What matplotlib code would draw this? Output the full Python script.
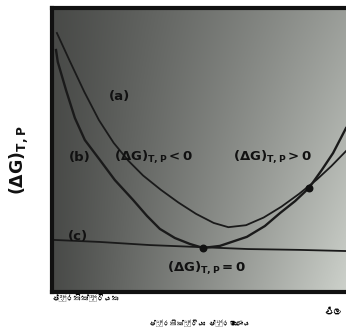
import numpy as np
import matplotlib
matplotlib.use("Agg")
import matplotlib.pyplot as plt
from matplotlib import font_manager
from matplotlib.ft2font import FT2Font

# ---- data (x = extent of reaction 0..1, y = G 0..1) ----
a_x = [0.017, 0.06, 0.11, 0.16, 0.21, 0.26, 0.31, 0.37, 0.43, 0.49,
       0.55, 0.60, 0.66, 0.72, 0.78, 0.84, 0.90, 0.95, 1.0]
a_y = [0.912, 0.815, 0.705, 0.605, 0.525, 0.462, 0.410, 0.360, 0.315, 0.275,
       0.243, 0.228, 0.235, 0.262, 0.300, 0.345, 0.395, 0.443, 0.496]

b_x = [0.014, 0.020, 0.048, 0.078, 0.112, 0.163, 0.214, 0.276, 0.323, 0.367,
       0.418, 0.469, 0.514, 0.571, 0.663, 0.724, 0.776, 0.827, 0.874, 0.918,
       0.956, 1.0]
b_y = [0.852, 0.810, 0.711, 0.613, 0.535, 0.465, 0.394, 0.324, 0.268, 0.222,
       0.190, 0.169, 0.155, 0.162, 0.194, 0.232, 0.278, 0.320, 0.366, 0.430,
       0.489, 0.577]

c_x = [0.010, 0.163, 0.333, 0.500, 0.667, 0.843, 1.0]
c_y = [0.183, 0.176, 0.165, 0.158, 0.151, 0.148, 0.144]

dot_x = [0.514, 0.874]
dot_y = [0.155, 0.366]

curve_labels = ["(a)", "(b)", "(c)"]
x_start_label = "ප්‍රතික්‍රියක"
x_end_label = "ඵල"
x_label = "ප්‍රතික්‍රියා ප්‍රමාණය"

# ---- fonts ----
def find_font(ch):
    for f in font_manager.fontManager.ttflist:
        try:
            if ord(ch) in FT2Font(f.fname).get_charmap():
                return f.name
        except Exception:
            pass
    return None

sin_font = find_font("ප")
fam = [sin_font, "DejaVu Sans"] if sin_font else ["DejaVu Sans"]

fig = plt.figure(figsize=(3.46, 3.34), dpi=100)
ax = fig.add_axes([0.150, 0.126, 0.85, 0.85])
ax.set_xlim(0, 1)
ax.set_ylim(0, 1)

# photographed grey background (dark left, lighter right, lightest bottom-right)
gx, gy = np.meshgrid(np.linspace(0, 1, 200), np.linspace(0, 1, 200))  # gy=1 at bottom
grad = 0.29 + 0.33 * gx ** 1.1 + 0.20 * gx * gy
rgb = np.dstack([grad * 0.98, grad, grad * 0.97]).clip(0, 1)
ax.imshow(rgb, extent=[0, 1, 0, 1], origin="upper", aspect="auto", zorder=0)

lc = "#1a1a1a"
ax.plot(a_x, a_y, color=lc, lw=1.3, zorder=2)
ax.plot(b_x, b_y, color=lc, lw=1.7, zorder=2)
ax.plot(c_x, c_y, color=lc, lw=1.3, zorder=2)
ax.scatter(dot_x, dot_y, s=22, color="#111111", zorder=3)

tk = dict(fontsize=9.5, fontweight="bold", color="#111111", ha="center", va="center")
ax.text(0.231, 0.687, curve_labels[0], **tk)
ax.text(0.095, 0.475, curve_labels[1], **tk)
ax.text(0.088, 0.194, curve_labels[2], **tk)
ax.text(0.345, 0.475, r"$\mathbf{(\Delta G)}_{\mathbf{T,P}}\mathbf{<0}$", **tk)
ax.text(0.750, 0.475, r"$\mathbf{(\Delta G)}_{\mathbf{T,P}}\mathbf{>0}$", **tk)
ax.text(0.525, 0.085, r"$\mathbf{(\Delta G)}_{\mathbf{T,P}}\mathbf{=0}$", **tk)

for s in ["left", "bottom", "top"]:
    ax.spines[s].set_linewidth(3)
    ax.spines[s].set_color("#111111")
ax.spines["right"].set_visible(False)
ax.set_xticks([])
ax.set_yticks([])

fig.text(0.055, 0.52, r"$\mathbf{(\Delta G)}_{\mathbf{T,P}}$", rotation=90,
         fontsize=12.5, ha="center", va="center", color="#111111")
fig.text(0.150, 0.108, x_start_label, family=fam, fontsize=5.5,
         fontweight="bold", ha="left", va="center")
fig.text(0.962, 0.066, x_end_label, family=fam, fontsize=7,
         fontweight="bold", ha="center", va="center")
fig.text(0.578, 0.033, x_label, family=fam, fontsize=5.0,
         fontweight="bold", ha="center", va="center")

fig.savefig("out.png", dpi=100, facecolor="white")
